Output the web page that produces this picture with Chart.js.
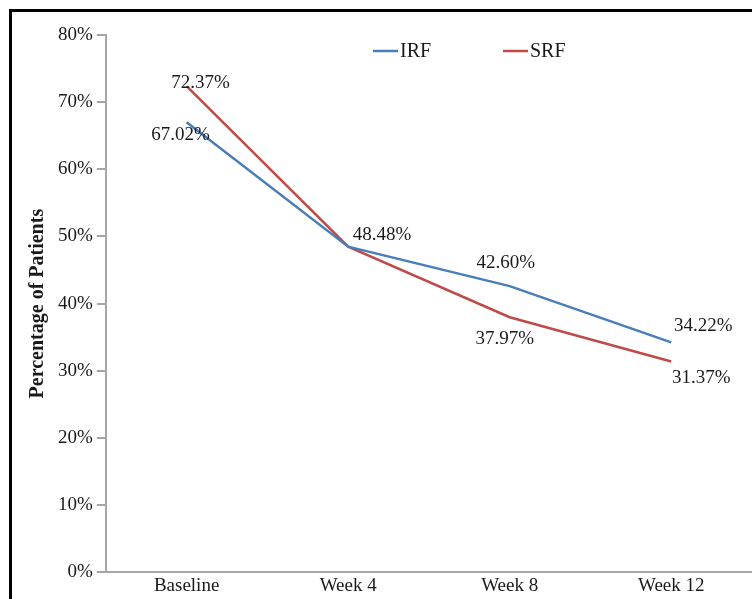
<!DOCTYPE html>
<html>
<head>
<meta charset="utf-8">
<script src="https://cdn.jsdelivr.net/npm/chart.js@4/dist/chart.umd.min.js"></script>
<style>
  html, body { margin: 0; padding: 0; background: #fff; }
  #wrap { position: relative; width: 752px; height: 599px; overflow: hidden; }
  #frame { position: absolute; left: 9px; top: 9px; width: 800px; height: 700px;
           border-top: 3px solid #000; border-left: 3px solid #000; pointer-events: none; }
  canvas { position: absolute; left: 0; top: 0; }
</style>
</head>
<body>
<div id="wrap">
  <canvas id="chart" width="752" height="599"></canvas>
  <div id="frame"></div>
</div>
<script>
const categories = ["Baseline", "Week 4", "Week 8", "Week 12"];
const irfValues = [67.02, 48.48, 42.60, 34.22];
const srfValues = [72.37, 48.48, 37.97, 31.37];
const yTicks = [0, 10, 20, 30, 40, 50, 60, 70, 80];

const FONT = "'Liberation Serif', 'Times New Roman', serif";
const BLUE = "#4A7EBB";
const RED = "#BE4B48";

// label offsets from the point (dx, dy)
const labelOffsets = {
  0: [[-6, 13], [0, 0], [-4, -23], [32, -16]],
  1: [[14, -3], [34, -12], [-5, 22], [30, 16]],
};
const labelHidden = { 0: [false, true, false, false], 1: [false, false, false, false] };

const dataLabels = {
  id: "dataLabels",
  afterDatasetsDraw(chart) {
    const ctx = chart.ctx;
    ctx.save();
    ctx.font = `19px ${FONT}`;
    ctx.fillStyle = "#1a1a1a";
    ctx.textAlign = "center";
    ctx.textBaseline = "middle";
    chart.data.datasets.forEach((ds, i) => {
      chart.getDatasetMeta(i).data.forEach((pt, j) => {
        if (labelHidden[i][j]) return;
        const [dx, dy] = labelOffsets[i][j];
        ctx.fillText(ds.data[j].toFixed(2) + "%", pt.x + dx, pt.y + dy);
      });
    });
    ctx.restore();
  },
};

const lineLegend = {
  id: "lineLegend",
  afterDraw(chart) {
    const ctx = chart.ctx;
    const items = [
      { x: 373, label: "IRF", color: BLUE },
      { x: 503, label: "SRF", color: RED },
    ];
    ctx.save();
    ctx.font = `20px ${FONT}`;
    ctx.textBaseline = "middle";
    ctx.textAlign = "left";
    items.forEach((it) => {
      ctx.strokeStyle = it.color;
      ctx.lineWidth = 2.5;
      ctx.beginPath();
      ctx.moveTo(it.x, 51);
      ctx.lineTo(it.x + 25, 51);
      ctx.stroke();
      ctx.fillStyle = "#1a1a1a";
      ctx.fillText(it.label, it.x + 27, 52);
    });
    ctx.restore();
  },
};

new Chart(document.getElementById("chart").getContext("2d"), {
  type: "line",
  data: {
    labels: categories,
    datasets: [
      { label: "IRF", data: irfValues, borderColor: BLUE, backgroundColor: BLUE,
        borderWidth: 2.5, pointRadius: 0, tension: 0 },
      { label: "SRF", data: srfValues, borderColor: RED, backgroundColor: RED,
        borderWidth: 2.5, pointRadius: 0, tension: 0 },
    ],
  },
  options: {
    responsive: false,
    animation: false,
    layout: { padding: { top: 35, right: -8, bottom: 0, left: 22 } },
    scales: {
      x: {
        offset: true,
        grid: { display: false, drawTicks: false },
        border: { display: true, color: "#a6a6a6", width: 2 },
        ticks: { color: "#1a1a1a", font: { family: FONT, size: 19 }, padding: 2 },
      },
      y: {
        min: 0,
        max: 80,
        afterBuildTicks: (axis) => { axis.ticks = yTicks.map((v) => ({ value: v })); },
        grid: { drawOnChartArea: false, drawTicks: true, tickLength: 9, color: "#a6a6a6", lineWidth: 2 },
        border: { display: true, color: "#a6a6a6", width: 2 },
        title: { display: true, text: "Percentage of Patients", color: "#1a1a1a",
                 font: { family: FONT, size: 20, weight: "bold" }, padding: { top: 4, bottom: 4 } },
        ticks: { color: "#1a1a1a", font: { family: FONT, size: 19 }, padding: 4,
                 callback: (v) => v + "%" },
      },
    },
    plugins: {
      legend: { display: false },
      tooltip: { enabled: false },
    },
  },
  plugins: [dataLabels, lineLegend],
});
</script>
</body>
</html>
